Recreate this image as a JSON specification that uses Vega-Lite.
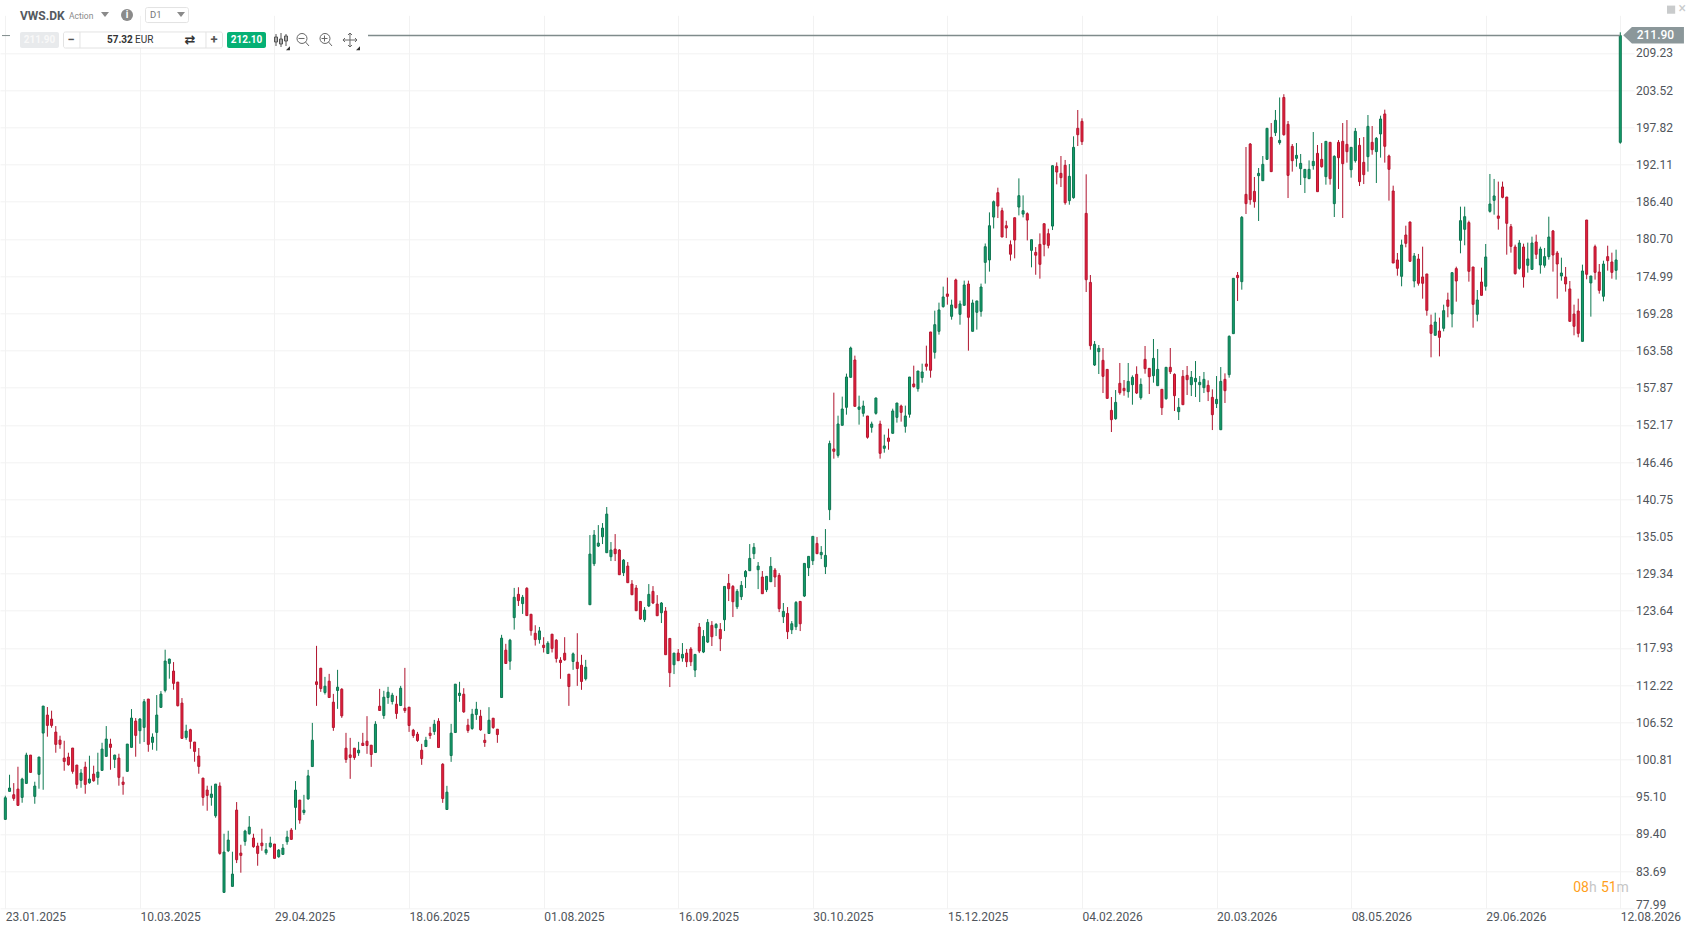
{
"$schema":"https://vega.github.io/schema/vega-lite/v6.json",
"width":1634,"height":893,
"autosize":{"type":"none"},
"padding":{"left":0,"top":15.3,"right":58,"bottom":23.7},
"background":"#ffffff",
"view":{"stroke":null},
"config":{"text":{"font":"Roboto"},"axis":{"labelFont":"Roboto"}},
"data":{"values":[{}]},
"datasets":{"candles":[
{"bar":0,"open":91.63,"high":95.26,"low":91.63,"close":94.95},
{"bar":1,"open":95.93,"high":98.48,"low":95.93,"close":96.44},
{"bar":2,"open":95.42,"high":97.2,"low":94.49,"close":94.85},
{"bar":3,"open":96.28,"high":99.71,"low":93.78,"close":93.78},
{"bar":4,"open":95.01,"high":98.02,"low":94.19,"close":97.82},
{"bar":5,"open":97.15,"high":101.86,"low":97.15,"close":101.5},
{"bar":6,"open":101.5,"high":101.5,"low":98.84,"close":98.84},
{"bar":7,"open":95.16,"high":97.41,"low":94.03,"close":96.75},
{"bar":8,"open":98.54,"high":101.2,"low":96.34,"close":101.2},
{"bar":9,"open":104.88,"high":109.02,"low":96.18,"close":109.02},
{"bar":10,"open":107.64,"high":108.87,"low":104.32,"close":106.05},
{"bar":11,"open":107.03,"high":108.31,"low":105.7,"close":106.05},
{"bar":12,"open":105.03,"high":105.95,"low":101.86,"close":103.14},
{"bar":13,"open":103.8,"high":104.47,"low":102.47,"close":103.14},
{"bar":14,"open":101.04,"high":103.7,"low":99.1,"close":100.53},
{"bar":15,"open":101.2,"high":101.86,"low":99.87,"close":100.02},
{"bar":16,"open":102.58,"high":102.58,"low":98.64,"close":99.0},
{"bar":17,"open":99.97,"high":99.97,"low":96.34,"close":97.0},
{"bar":18,"open":97.61,"high":99.35,"low":96.49,"close":98.74},
{"bar":19,"open":99.66,"high":100.48,"low":95.57,"close":97.0},
{"bar":20,"open":97.26,"high":101.4,"low":97.1,"close":97.82},
{"bar":21,"open":98.59,"high":99.87,"low":97.41,"close":97.56},
{"bar":22,"open":98.08,"high":101.86,"low":96.95,"close":98.89},
{"bar":23,"open":99.15,"high":103.39,"low":99.15,"close":102.42},
{"bar":24,"open":101.3,"high":105.95,"low":101.3,"close":103.96},
{"bar":25,"open":103.19,"high":104.01,"low":99.25,"close":102.68},
{"bar":26,"open":100.84,"high":101.55,"low":99.51,"close":101.5},
{"bar":27,"open":101.04,"high":101.71,"low":96.8,"close":98.08},
{"bar":28,"open":97.36,"high":98.18,"low":95.42,"close":97.0},
{"bar":29,"open":99.0,"high":103.19,"low":99.0,"close":103.19},
{"bar":30,"open":102.68,"high":108.56,"low":102.68,"close":107.18},
{"bar":31,"open":106.72,"high":107.18,"low":101.25,"close":104.52},
{"bar":32,"open":105.24,"high":107.18,"low":103.24,"close":107.03},
{"bar":33,"open":105.75,"high":110.1,"low":103.5,"close":109.69},
{"bar":34,"open":110.1,"high":110.1,"low":102.01,"close":103.14},
{"bar":35,"open":103.45,"high":104.83,"low":102.32,"close":104.26},
{"bar":36,"open":104.98,"high":110.71,"low":102.17,"close":107.64},
{"bar":37,"open":108.82,"high":111.32,"low":108.82,"close":110.86},
{"bar":38,"open":111.43,"high":117.67,"low":111.12,"close":115.93},
{"bar":39,"open":115.57,"high":116.28,"low":113.22,"close":116.23},
{"bar":40,"open":114.39,"high":115.77,"low":111.53,"close":112.5},
{"bar":41,"open":112.7,"high":112.7,"low":108.97,"close":109.07},
{"bar":42,"open":109.48,"high":110.25,"low":104.06,"close":104.06},
{"bar":43,"open":104.21,"high":106.16,"low":103.85,"close":105.18},
{"bar":44,"open":105.39,"high":105.54,"low":102.47,"close":103.6},
{"bar":45,"open":103.5,"high":103.5,"low":100.48,"close":102.06},
{"bar":46,"open":101.35,"high":102.58,"low":98.64,"close":99.76},
{"bar":47,"open":97.97,"high":97.97,"low":93.73,"close":95.01},
{"bar":48,"open":96.13,"high":96.8,"low":92.96,"close":95.31},
{"bar":49,"open":95.01,"high":96.8,"low":93.73,"close":95.52},
{"bar":50,"open":92.19,"high":97.05,"low":91.89,"close":97.05},
{"bar":51,"open":96.75,"high":97.31,"low":86.21,"close":86.41},
{"bar":52,"open":80.43,"high":89.43,"low":80.43,"close":86.62},
{"bar":53,"open":86.82,"high":89.89,"low":86.62,"close":88.46},
{"bar":54,"open":81.35,"high":86.67,"low":81.35,"close":83.24},
{"bar":55,"open":93.06,"high":94.29,"low":84.93,"close":85.44},
{"bar":56,"open":86.46,"high":87.74,"low":83.45,"close":86.11},
{"bar":57,"open":88.25,"high":90.04,"low":87.59,"close":89.84},
{"bar":58,"open":89.43,"high":92.14,"low":89.28,"close":90.45},
{"bar":59,"open":88.77,"high":89.43,"low":87.28,"close":87.44},
{"bar":60,"open":87.54,"high":88.05,"low":84.52,"close":86.41},
{"bar":61,"open":88.0,"high":90.2,"low":86.82,"close":87.59},
{"bar":62,"open":86.51,"high":88.0,"low":86.21,"close":86.98},
{"bar":63,"open":87.44,"high":88.97,"low":87.28,"close":88.0},
{"bar":64,"open":87.85,"high":87.85,"low":85.65,"close":85.65},
{"bar":65,"open":85.9,"high":87.08,"low":85.75,"close":86.92},
{"bar":66,"open":86.26,"high":87.85,"low":86.26,"close":87.23},
{"bar":67,"open":88.2,"high":89.89,"low":87.74,"close":88.92},
{"bar":68,"open":89.99,"high":90.3,"low":88.56,"close":88.56},
{"bar":69,"open":93.47,"high":97.51,"low":90.04,"close":96.13},
{"bar":70,"open":94.6,"high":94.6,"low":90.97,"close":91.53},
{"bar":71,"open":92.69,"high":95.4,"low":92.33,"close":93.04},
{"bar":72,"open":94.78,"high":99.23,"low":94.63,"close":98.31},
{"bar":73,"open":99.74,"high":106.44,"low":99.74,"close":103.78},
{"bar":74,"open":112.74,"high":118.26,"low":109.05,"close":112.33},
{"bar":75,"open":114.83,"high":114.83,"low":111.2,"close":111.71},
{"bar":76,"open":111.1,"high":113.5,"low":110.79,"close":112.07},
{"bar":77,"open":112.84,"high":113.96,"low":110.33,"close":110.33},
{"bar":78,"open":109.62,"high":110.89,"low":105.22,"close":105.73},
{"bar":79,"open":111.41,"high":114.58,"low":108.59,"close":111.92},
{"bar":80,"open":111.61,"high":111.76,"low":107.21,"close":107.52},
{"bar":81,"open":102.56,"high":104.91,"low":100.31,"close":100.82},
{"bar":82,"open":101.53,"high":104.14,"low":97.85,"close":101.13},
{"bar":83,"open":102.56,"high":102.56,"low":100.77,"close":101.13},
{"bar":84,"open":101.84,"high":103.53,"low":101.38,"close":102.25},
{"bar":85,"open":103.32,"high":104.91,"low":102.97,"close":102.97},
{"bar":86,"open":103.63,"high":107.47,"low":101.69,"close":102.97},
{"bar":87,"open":103.02,"high":103.02,"low":99.69,"close":101.59},
{"bar":88,"open":101.89,"high":106.7,"low":101.89,"close":106.24},
{"bar":89,"open":109.0,"high":111.66,"low":108.34,"close":108.34},
{"bar":90,"open":107.57,"high":111.36,"low":107.06,"close":110.38},
{"bar":91,"open":110.33,"high":111.97,"low":109.36,"close":111.15},
{"bar":92,"open":109.72,"high":111.05,"low":109.26,"close":110.69},
{"bar":93,"open":109.31,"high":110.59,"low":107.06,"close":107.88},
{"bar":94,"open":109.1,"high":112.12,"low":109.1,"close":111.76},
{"bar":95,"open":108.7,"high":114.88,"low":107.98,"close":108.34},
{"bar":96,"open":108.85,"high":108.85,"low":105.06,"close":106.04},
{"bar":97,"open":105.32,"high":105.52,"low":104.14,"close":104.5},
{"bar":98,"open":104.71,"high":105.06,"low":103.53,"close":103.73},
{"bar":99,"open":102.25,"high":103.22,"low":100.0,"close":100.97},
{"bar":100,"open":102.81,"high":104.3,"low":102.81,"close":103.78},
{"bar":101,"open":104.86,"high":105.83,"low":103.99,"close":104.5},
{"bar":102,"open":105.11,"high":106.9,"low":104.6,"close":106.24},
{"bar":103,"open":106.7,"high":107.16,"low":102.66,"close":102.66},
{"bar":104,"open":100.1,"high":100.25,"low":94.17,"close":94.83},
{"bar":105,"open":93.15,"high":96.78,"low":93.15,"close":95.81},
{"bar":106,"open":101.43,"high":106.29,"low":100.46,"close":104.86},
{"bar":107,"open":104.96,"high":112.38,"low":104.96,"close":112.38},
{"bar":108,"open":110.64,"high":112.74,"low":109.67,"close":111.0},
{"bar":109,"open":110.84,"high":111.76,"low":107.98,"close":108.13},
{"bar":110,"open":106.09,"high":107.06,"low":104.91,"close":105.27},
{"bar":111,"open":105.58,"high":108.59,"low":105.37,"close":107.77},
{"bar":112,"open":107.72,"high":109.67,"low":106.9,"close":108.54},
{"bar":113,"open":107.47,"high":108.44,"low":105.22,"close":105.37},
{"bar":114,"open":103.78,"high":104.76,"low":102.76,"close":103.43},
{"bar":115,"open":104.81,"high":108.85,"low":104.81,"close":106.85},
{"bar":116,"open":107.16,"high":107.16,"low":105.52,"close":105.73},
{"bar":117,"open":105.47,"high":105.47,"low":103.38,"close":104.65},
{"bar":118,"open":110.33,"high":119.95,"low":110.33,"close":119.44},
{"bar":119,"open":117.6,"high":118.57,"low":115.55,"close":115.55},
{"bar":120,"open":115.91,"high":119.33,"low":114.58,"close":119.13},
{"bar":121,"open":122.59,"high":127.15,"low":120.75,"close":125.71},
{"bar":122,"open":126.17,"high":127.25,"low":124.38,"close":125.2},
{"bar":123,"open":124.74,"high":126.07,"low":123.16,"close":125.71},
{"bar":124,"open":127.1,"high":127.25,"low":122.9,"close":122.9},
{"bar":125,"open":123.11,"high":123.11,"low":119.83,"close":120.6},
{"bar":126,"open":120.19,"high":121.42,"low":118.3,"close":119.22},
{"bar":127,"open":119.22,"high":121.16,"low":118.6,"close":120.55},
{"bar":128,"open":118.36,"high":119.59,"low":117.24,"close":118.0},
{"bar":129,"open":117.08,"high":118.98,"low":117.08,"close":118.67},
{"bar":130,"open":120.05,"high":120.05,"low":117.24,"close":117.85},
{"bar":131,"open":119.13,"high":119.28,"low":115.7,"close":116.32},
{"bar":132,"open":116.06,"high":116.52,"low":113.2,"close":115.7},
{"bar":133,"open":117.13,"high":119.59,"low":115.96,"close":116.11},
{"bar":134,"open":113.91,"high":113.91,"low":109.05,"close":112.02},
{"bar":135,"open":115.86,"high":117.24,"low":114.58,"close":117.03},
{"bar":136,"open":115.75,"high":120.2,"low":112.12,"close":114.78},
{"bar":137,"open":115.29,"high":116.88,"low":111.51,"close":112.79},
{"bar":138,"open":113.2,"high":116.11,"low":112.94,"close":114.99},
{"bar":139,"open":124.57,"high":135.26,"low":124.57,"close":132.34},
{"bar":140,"open":130.86,"high":136.03,"low":130.5,"close":135.26},
{"bar":141,"open":133.57,"high":136.79,"low":133.42,"close":134.03},
{"bar":142,"open":135.0,"high":137.1,"low":133.88,"close":136.33},
{"bar":143,"open":132.55,"high":139.56,"low":132.55,"close":138.48},
{"bar":144,"open":131.94,"high":134.19,"low":131.27,"close":132.96},
{"bar":145,"open":133.11,"high":135.41,"low":131.27,"close":132.4},
{"bar":146,"open":132.96,"high":133.11,"low":129.17,"close":129.17},
{"bar":147,"open":129.48,"high":131.58,"low":128.97,"close":131.42},
{"bar":148,"open":130.5,"high":131.12,"low":127.95,"close":127.95},
{"bar":149,"open":127.74,"high":128.35,"low":126.1,"close":126.1},
{"bar":150,"open":127.13,"high":127.59,"low":123.65,"close":123.65},
{"bar":151,"open":125.08,"high":125.08,"low":122.22,"close":122.37},
{"bar":152,"open":122.27,"high":124.21,"low":121.91,"close":123.75},
{"bar":153,"open":124.37,"high":127.74,"low":124.21,"close":126.16},
{"bar":154,"open":126.62,"high":127.43,"low":124.67,"close":124.83},
{"bar":155,"open":124.67,"high":126.05,"low":122.88,"close":122.88},
{"bar":156,"open":123.34,"high":124.98,"low":121.76,"close":124.83},
{"bar":157,"open":123.6,"high":124.21,"low":116.9,"close":116.9},
{"bar":158,"open":119.4,"high":119.4,"low":111.94,"close":114.14},
{"bar":159,"open":115.36,"high":117.15,"low":113.93,"close":117.15},
{"bar":160,"open":117.15,"high":117.77,"low":115.98,"close":115.98},
{"bar":161,"open":116.39,"high":118.69,"low":115.82,"close":116.95},
{"bar":162,"open":117.15,"high":117.77,"low":115.0,"close":115.82},
{"bar":163,"open":117.77,"high":118.07,"low":115.16,"close":115.82},
{"bar":164,"open":114.54,"high":116.95,"low":113.47,"close":116.95},
{"bar":165,"open":121.14,"high":121.76,"low":117.15,"close":117.46},
{"bar":166,"open":117.31,"high":120.68,"low":117.15,"close":119.71},
{"bar":167,"open":118.84,"high":122.37,"low":118.69,"close":121.86},
{"bar":168,"open":121.4,"high":122.06,"low":118.23,"close":119.66},
{"bar":169,"open":121.04,"high":121.76,"low":119.76,"close":121.55},
{"bar":170,"open":120.78,"high":121.76,"low":117.46,"close":119.35},
{"bar":171,"open":122.27,"high":127.38,"low":120.53,"close":127.38},
{"bar":172,"open":127.84,"high":129.28,"low":125.13,"close":127.03},
{"bar":173,"open":127.38,"high":127.59,"low":122.68,"close":125.03},
{"bar":174,"open":124.26,"high":126.97,"low":123.9,"close":126.62},
{"bar":175,"open":125.8,"high":128.2,"low":125.29,"close":127.54},
{"bar":176,"open":128.87,"high":129.89,"low":127.13,"close":129.68},
{"bar":177,"open":129.79,"high":133.88,"low":129.79,"close":131.68},
{"bar":178,"open":132.4,"high":134.03,"low":131.58,"close":133.37},
{"bar":179,"open":129.94,"high":131.12,"low":126.97,"close":130.5},
{"bar":180,"open":128.82,"high":129.74,"low":126.26,"close":126.26},
{"bar":181,"open":126.87,"high":128.97,"low":126.51,"close":128.92},
{"bar":182,"open":128.1,"high":131.88,"low":128.1,"close":130.45},
{"bar":183,"open":129.89,"high":130.2,"low":127.28,"close":128.82},
{"bar":184,"open":129.07,"high":129.43,"low":123.44,"close":123.96},
{"bar":185,"open":122.73,"high":124.83,"low":121.76,"close":123.55},
{"bar":186,"open":123.24,"high":124.21,"low":119.3,"close":120.43},
{"bar":187,"open":120.73,"high":122.06,"low":120.07,"close":121.65},
{"bar":188,"open":121.19,"high":125.13,"low":120.68,"close":124.93},
{"bar":189,"open":125.08,"high":125.13,"low":120.53,"close":121.65},
{"bar":190,"open":125.9,"high":130.91,"low":125.75,"close":130.91},
{"bar":191,"open":130.25,"high":131.99,"low":128.97,"close":131.99},
{"bar":192,"open":131.32,"high":135.06,"low":130.66,"close":135.06},
{"bar":193,"open":133.98,"high":134.95,"low":132.4,"close":132.4},
{"bar":194,"open":132.24,"high":133.57,"low":131.58,"close":132.6},
{"bar":195,"open":130.4,"high":136.18,"low":129.28,"close":132.14},
{"bar":196,"open":139.15,"high":149.74,"low":137.56,"close":149.3},
{"bar":197,"open":148.47,"high":157.11,"low":146.98,"close":148.11},
{"bar":198,"open":147.49,"high":153.58,"low":147.14,"close":152.3},
{"bar":199,"open":152.1,"high":156.5,"low":152.1,"close":154.6},
{"bar":200,"open":154.86,"high":160.03,"low":153.73,"close":159.51},
{"bar":201,"open":159.46,"high":164.17,"low":159.46,"close":163.96},
{"bar":202,"open":162.12,"high":162.79,"low":155.01,"close":155.01},
{"bar":203,"open":154.55,"high":156.65,"low":152.2,"close":154.91},
{"bar":204,"open":153.94,"high":155.88,"low":153.43,"close":155.06},
{"bar":205,"open":153.53,"high":153.53,"low":150.05,"close":150.26},
{"bar":206,"open":151.79,"high":152.66,"low":150.97,"close":152.3},
{"bar":207,"open":153.94,"high":156.34,"low":153.73,"close":156.29},
{"bar":208,"open":152.3,"high":152.81,"low":146.98,"close":147.8},
{"bar":209,"open":148.57,"high":150.67,"low":147.9,"close":148.93},
{"bar":210,"open":150.15,"high":151.59,"low":148.36,"close":149.64},
{"bar":211,"open":150.87,"high":154.65,"low":150.87,"close":154.3},
{"bar":212,"open":153.32,"high":155.52,"low":152.51,"close":155.52},
{"bar":213,"open":155.06,"high":155.27,"low":152.66,"close":154.09},
{"bar":214,"open":151.94,"high":155.12,"low":150.97,"close":153.53},
{"bar":215,"open":153.79,"high":159.51,"low":153.27,"close":159.51},
{"bar":216,"open":158.44,"high":161.25,"low":157.88,"close":158.03},
{"bar":217,"open":157.72,"high":160.43,"low":157.26,"close":160.43},
{"bar":218,"open":159.41,"high":161.56,"low":158.64,"close":160.28},
{"bar":219,"open":161.51,"high":164.32,"low":160.49,"close":161.15},
{"bar":220,"open":166.42,"high":166.42,"low":159.41,"close":160.54},
{"bar":221,"open":163.3,"high":169.69,"low":162.33,"close":167.54},
{"bar":222,"open":166.52,"high":170.92,"low":166.01,"close":169.8},
{"bar":223,"open":170.31,"high":173.38,"low":170.15,"close":171.79},
{"bar":224,"open":172.25,"high":174.76,"low":170.61,"close":171.89},
{"bar":225,"open":168.82,"high":171.38,"low":168.31,"close":170.56},
{"bar":226,"open":174.4,"high":174.6,"low":170.0,"close":170.15},
{"bar":227,"open":169.13,"high":171.23,"low":167.54,"close":170.72},
{"bar":228,"open":170.51,"high":174.3,"low":170.51,"close":173.63},
{"bar":229,"open":173.78,"high":174.3,"low":163.55,"close":168.67},
{"bar":230,"open":166.52,"high":171.38,"low":166.52,"close":170.87},
{"bar":231,"open":169.44,"high":171.18,"low":166.78,"close":171.18},
{"bar":232,"open":169.59,"high":173.84,"low":168.77,"close":173.32},
{"bar":233,"open":177.1,"high":180.0,"low":173.84,"close":179.5},
{"bar":234,"open":177.47,"high":184.77,"low":175.68,"close":182.72},
{"bar":235,"open":184.05,"high":186.6,"low":182.3,"close":186.41},
{"bar":236,"open":187.79,"high":188.56,"low":183.9,"close":185.74},
{"bar":237,"open":185.03,"high":185.49,"low":180.99,"close":180.99},
{"bar":238,"open":182.72,"high":183.49,"low":180.83,"close":182.37},
{"bar":239,"open":179.81,"high":180.47,"low":177.37,"close":178.35},
{"bar":240,"open":183.95,"high":183.95,"low":177.72,"close":180.53},
{"bar":241,"open":185.59,"high":189.99,"low":184.31,"close":187.33},
{"bar":242,"open":184.51,"high":187.38,"low":184.0,"close":185.03},
{"bar":243,"open":184.57,"high":184.77,"low":180.47,"close":183.59},
{"bar":244,"open":178.94,"high":180.58,"low":176.34,"close":180.58},
{"bar":245,"open":178.63,"high":179.45,"low":175.2,"close":178.2},
{"bar":246,"open":179.86,"high":181.55,"low":174.6,"close":176.8},
{"bar":247,"open":183.03,"high":183.03,"low":178.03,"close":179.86},
{"bar":248,"open":181.5,"high":182.26,"low":179.25,"close":179.71},
{"bar":249,"open":182.67,"high":191.98,"low":182.06,"close":191.93},
{"bar":250,"open":191.83,"high":192.44,"low":189.07,"close":190.96},
{"bar":251,"open":190.76,"high":193.42,"low":188.66,"close":190.1},
{"bar":252,"open":192.0,"high":192.81,"low":185.95,"close":186.26},
{"bar":253,"open":186.57,"high":192.19,"low":185.95,"close":190.3},
{"bar":254,"open":187.03,"high":196.44,"low":186.87,"close":194.75},
{"bar":255,"open":197.67,"high":200.48,"low":194.95,"close":196.69},
{"bar":256,"open":198.74,"high":199.2,"low":195.11,"close":195.62},
{"bar":257,"open":184.62,"high":190.61,"low":172.55,"close":174.44},
{"bar":258,"open":174.03,"high":175.16,"low":163.7,"close":164.32},
{"bar":259,"open":161.35,"high":165.03,"low":161.2,"close":164.52},
{"bar":260,"open":163.4,"high":164.42,"low":159.97,"close":163.91},
{"bar":261,"open":162.07,"high":163.96,"low":157.05,"close":159.61},
{"bar":262,"open":160.68,"high":160.68,"low":156.23,"close":156.23},
{"bar":263,"open":154.39,"high":156.44,"low":151.07,"close":152.96},
{"bar":264,"open":153.11,"high":157.51,"low":152.96,"close":155.62},
{"bar":265,"open":158.54,"high":161.66,"low":156.8,"close":157.1},
{"bar":266,"open":157.77,"high":159.05,"low":156.64,"close":157.41},
{"bar":267,"open":157.26,"high":161.66,"low":156.34,"close":158.84},
{"bar":268,"open":158.33,"high":159.76,"low":155.26,"close":159.46},
{"bar":269,"open":159.92,"high":161.15,"low":156.9,"close":157.05},
{"bar":270,"open":156.34,"high":159.3,"low":156.03,"close":158.38},
{"bar":271,"open":162.22,"high":164.27,"low":160.02,"close":160.79},
{"bar":272,"open":160.84,"high":160.84,"low":156.9,"close":159.56},
{"bar":273,"open":159.71,"high":165.34,"low":158.64,"close":162.37},
{"bar":274,"open":158.18,"high":163.8,"low":158.18,"close":160.68},
{"bar":275,"open":157.62,"high":157.62,"low":153.68,"close":154.8},
{"bar":276,"open":156.18,"high":161.0,"low":156.03,"close":161.0},
{"bar":277,"open":161.0,"high":163.96,"low":159.97,"close":160.33},
{"bar":278,"open":159.92,"high":160.07,"low":154.29,"close":156.64},
{"bar":279,"open":154.19,"high":156.28,"low":152.91,"close":154.85},
{"bar":280,"open":159.61,"high":160.58,"low":155.26,"close":155.26},
{"bar":281,"open":159.76,"high":161.2,"low":156.75,"close":159.1},
{"bar":282,"open":158.33,"high":160.43,"low":156.59,"close":159.46},
{"bar":283,"open":158.79,"high":161.96,"low":156.44,"close":159.3},
{"bar":284,"open":158.33,"high":159.66,"low":155.67,"close":158.69},
{"bar":285,"open":157.87,"high":160.28,"low":157.05,"close":159.15},
{"bar":286,"open":158.23,"high":159.0,"low":155.82,"close":157.26},
{"bar":287,"open":156.39,"high":157.62,"low":151.37,"close":153.73},
{"bar":288,"open":155.42,"high":159.66,"low":154.75,"close":156.08},
{"bar":289,"open":151.42,"high":161.04,"low":151.42,"close":158.84},
{"bar":290,"open":159.15,"high":160.07,"low":155.52,"close":157.41},
{"bar":291,"open":159.87,"high":165.9,"low":159.41,"close":165.75},
{"bar":292,"open":166.16,"high":174.65,"low":166.16,"close":174.65},
{"bar":293,"open":175.11,"high":175.62,"low":171.17,"close":174.75},
{"bar":294,"open":174.14,"high":184.21,"low":172.91,"close":184.01},
{"bar":295,"open":187.54,"high":194.8,"low":184.52,"close":186.11},
{"bar":296,"open":195.26,"high":195.41,"low":185.95,"close":186.72},
{"bar":297,"open":188.0,"high":190.2,"low":185.49,"close":186.41},
{"bar":298,"open":190.4,"high":191.58,"low":183.45,"close":190.76},
{"bar":299,"open":189.63,"high":193.42,"low":189.63,"close":192.14},
{"bar":300,"open":192.91,"high":197.67,"low":192.81,"close":197.67},
{"bar":301,"open":196.29,"high":198.48,"low":191.02,"close":191.02},
{"bar":302,"open":197.0,"high":200.48,"low":196.49,"close":198.89},
{"bar":303,"open":195.47,"high":202.4,"low":195.16,"close":195.82},
{"bar":304,"open":202.4,"high":202.9,"low":196.54,"close":196.69},
{"bar":305,"open":198.28,"high":198.79,"low":186.97,"close":190.45},
{"bar":306,"open":194.9,"high":195.26,"low":191.02,"close":192.7},
{"bar":307,"open":193.06,"high":195.41,"low":191.78,"close":193.52},
{"bar":308,"open":191.48,"high":193.73,"low":188.97,"close":192.29},
{"bar":309,"open":190.1,"high":191.37,"low":187.74,"close":191.37},
{"bar":310,"open":189.94,"high":192.75,"low":189.94,"close":191.37},
{"bar":311,"open":191.94,"high":197.1,"low":191.32,"close":192.6},
{"bar":312,"open":193.83,"high":195.11,"low":187.95,"close":187.95},
{"bar":313,"open":192.91,"high":195.41,"low":191.63,"close":191.78},
{"bar":314,"open":190.25,"high":195.67,"low":189.02,"close":195.67},
{"bar":315,"open":195.52,"high":195.57,"low":189.02,"close":189.94},
{"bar":316,"open":186.11,"high":193.52,"low":184.06,"close":193.37},
{"bar":317,"open":195.52,"high":195.87,"low":188.36,"close":193.16},
{"bar":318,"open":195.67,"high":198.48,"low":183.91,"close":192.24},
{"bar":319,"open":195.21,"high":198.94,"low":192.4,"close":194.09},
{"bar":320,"open":191.32,"high":194.75,"low":190.1,"close":194.75},
{"bar":321,"open":192.7,"high":197.72,"low":192.4,"close":197.21},
{"bar":322,"open":195.06,"high":196.18,"low":188.82,"close":189.48},
{"bar":323,"open":192.45,"high":196.33,"low":189.12,"close":190.56},
{"bar":324,"open":193.32,"high":199.71,"low":191.02,"close":197.97},
{"bar":325,"open":195.52,"high":198.02,"low":193.62,"close":194.39},
{"bar":326,"open":194.09,"high":196.33,"low":189.28,"close":196.13},
{"bar":327,"open":196.8,"high":199.61,"low":193.17,"close":199.1},
{"bar":328,"open":199.87,"high":200.53,"low":192.4,"close":194.91},
{"bar":329,"open":193.42,"high":193.63,"low":186.57,"close":191.38},
{"bar":330,"open":188.05,"high":188.87,"low":177.0,"close":177.0},
{"bar":331,"open":177.47,"high":178.54,"low":175.06,"close":176.19},
{"bar":332,"open":174.96,"high":180.59,"low":173.43,"close":179.77},
{"bar":333,"open":181.3,"high":182.73,"low":179.41,"close":180.02},
{"bar":334,"open":183.3,"high":183.3,"low":177.26,"close":177.26},
{"bar":335,"open":174.24,"high":178.54,"low":173.27,"close":178.08},
{"bar":336,"open":177.62,"high":178.39,"low":173.53,"close":173.89},
{"bar":337,"open":174.86,"high":179.51,"low":171.53,"close":173.89},
{"bar":338,"open":175.32,"high":175.32,"low":168.92,"close":169.74},
{"bar":339,"open":167.49,"high":169.08,"low":162.53,"close":166.21},
{"bar":340,"open":165.91,"high":169.38,"low":165.91,"close":167.95},
{"bar":341,"open":166.57,"high":168.62,"low":162.68,"close":165.6},
{"bar":342,"open":166.98,"high":170.61,"low":166.52,"close":169.69},
{"bar":343,"open":171.33,"high":172.45,"low":168.67,"close":170.36},
{"bar":344,"open":169.18,"high":175.52,"low":167.13,"close":175.52},
{"bar":345,"open":176.14,"high":176.44,"low":171.07,"close":174.24},
{"bar":346,"open":180.48,"high":185.65,"low":178.49,"close":183.5},
{"bar":347,"open":182.17,"high":185.65,"low":179.72,"close":184.11},
{"bar":348,"open":183.2,"high":183.5,"low":174.14,"close":175.73},
{"bar":349,"open":176.39,"high":176.39,"low":167.08,"close":170.66},
{"bar":350,"open":169.13,"high":172.86,"low":168.05,"close":171.33},
{"bar":351,"open":174.09,"high":176.29,"low":172.04,"close":172.04},
{"bar":352,"open":173.43,"high":179.92,"low":172.76,"close":177.93},
{"bar":353,"open":184.93,"high":190.66,"low":184.73,"close":186.06},
{"bar":354,"open":186.62,"high":189.9,"low":184.42,"close":187.29},
{"bar":355,"open":184.22,"high":189.49,"low":182.12,"close":183.86},
{"bar":356,"open":188.67,"high":189.49,"low":186.93,"close":187.08},
{"bar":357,"open":187.13,"high":187.13,"low":178.28,"close":183.09},
{"bar":358,"open":182.58,"high":182.99,"low":178.59,"close":179.56},
{"bar":359,"open":179.46,"high":179.82,"low":175.22,"close":175.37},
{"bar":360,"open":176.19,"high":180.53,"low":175.98,"close":180.07},
{"bar":361,"open":179.46,"high":179.97,"low":173.22,"close":174.86},
{"bar":362,"open":176.65,"high":180.13,"low":175.52,"close":177.62},
{"bar":363,"open":176.03,"high":181.05,"low":175.98,"close":180.07},
{"bar":364,"open":180.23,"high":181.35,"low":177.62,"close":178.34},
{"bar":365,"open":176.7,"high":179.51,"low":175.37,"close":179.15},
{"bar":366,"open":176.65,"high":179.31,"low":176.29,"close":177.98},
{"bar":367,"open":177.98,"high":184.11,"low":177.52,"close":180.99},
{"bar":368,"open":181.92,"high":182.07,"low":175.68,"close":178.23},
{"bar":369,"open":178.54,"high":178.85,"low":171.53,"close":176.85},
{"bar":370,"open":175.01,"high":177.82,"low":174.29,"close":175.47},
{"bar":371,"open":174.86,"high":176.39,"low":172.61,"close":173.78},
{"bar":372,"open":173.02,"high":174.24,"low":168.05,"close":168.05},
{"bar":373,"open":169.18,"high":170.61,"low":165.91,"close":167.29},
{"bar":374,"open":169.64,"high":171.53,"low":165.6,"close":166.21},
{"bar":375,"open":164.98,"high":176.75,"low":164.98,"close":175.78},
{"bar":376,"open":183.6,"high":183.6,"low":174.5,"close":175.27},
{"bar":377,"open":173.94,"high":175.01,"low":168.77,"close":175.01},
{"bar":378,"open":179.51,"high":179.82,"low":174.45,"close":175.57},
{"bar":379,"open":175.62,"high":176.85,"low":172.3,"close":172.81},
{"bar":380,"open":171.89,"high":177.36,"low":171.12,"close":176.85},
{"bar":381,"open":177.98,"high":179.66,"low":175.83,"close":177.36},
{"bar":382,"open":177.16,"high":178.59,"low":174.6,"close":175.57},
{"bar":383,"open":175.88,"high":179.05,"low":174.45,"close":177.47},
{"bar":384,"open":195.52,"high":212.4,"low":195.3,"close":211.9}
]},
"layer":[
{"data":{"name":"candles"},"mark":{"type":"rule","strokeWidth":1},"encoding":{"x":{"field":"bar","type":"quantitative","title":null,"scale":{"domain":[-1.267,387.26],"nice":false,"zero":false,"padding":0},"axis":{"values":[0,32,64,96,128,160,192,224,256,288,320,352,384],"tickCount":20,"labelExpr":"['23.01.2025','10.03.2025','29.04.2025','18.06.2025','01.08.2025','16.09.2025','30.10.2025','15.12.2025','04.02.2026','20.03.2026','08.05.2026','29.06.2026','12.08.2026'][datum.value/32]","labelAlign":"left","labelBaseline":"top","labelPadding":3,"labelFontSize":12,"labelColor":"#50555b","labelOverlap":false,"labelBound":false,"labelFlush":false,"ticks":false,"domain":false,"grid":true,"gridColor":"#f2f2f2","gridWidth":1,"title":null}},"y":{"field":"low","type":"quantitative","title":null,"scale":{"domain":[77.99,215.01],"nice":false,"zero":false},"axis":{"orient":"right","values":[77.99,83.69,89.40,95.10,100.81,106.52,112.22,117.93,123.64,129.34,135.05,140.75,146.46,152.17,157.87,163.58,169.28,174.99,180.70,186.40,192.11,197.82,203.52,209.23],"tickCount":30,"format":".2f","labelAlign":"left","labelPadding":1.5,"labelFontSize":12,"labelColor":"#50555b","labelOverlap":false,"labelBound":false,"labelFlush":true,"labelFlushOffset":3,"ticks":false,"domain":false,"grid":true,"gridColor":"#f2f2f2","gridWidth":1,"title":null}},"y2":{"field":"high"},"stroke":{"condition":{"test":"datum.close>datum.open","value":"#0e7a52"},"value":"#b0142e"}}},
{"data":{"name":"candles"},"mark":{"type":"bar","size":2,"strokeWidth":1},"encoding":{"x":{"field":"bar","type":"quantitative","title":null},"y":{"field":"open","type":"quantitative","title":null},"y2":{"field":"close"},"fill":{"condition":{"test":"datum.close>datum.open","value":"#13a06b"},"value":"#e8203d"},"stroke":{"condition":{"test":"datum.close>datum.open","value":"#0e7350"},"value":"#b3162f"}}},
{"mark":{"type":"rule","stroke":"#7f8b8b","strokeWidth":1.5},"encoding":{"x":{"datum":86.24},"x2":{"datum":384},"y":{"datum":211.9}}},
{"mark":{"type":"rule","stroke":"#7f8b8b","strokeWidth":1},"encoding":{"x":{"datum":-0.79},"x2":{"datum":1.11},"y":{"datum":211.9}}},
{"mark":{"type":"point","shape":"M-30.7,0L-22,-8.3L30,-8.3L30,8.3L-22,8.3Z","size":4,"filled":true,"fill":"#8b979a","strokeWidth":0,"opacity":1},"encoding":{"x":{"datum":392.0},"y":{"datum":211.94}}},
{"mark":{"type":"text","text":"211.90","align":"left","baseline":"middle","fontSize":12,"fontWeight":500,"fill":"#ffffff"},"encoding":{"x":{"datum":387.9},"y":{"datum":211.94}}},
{"mark":{"type":"rect","fill":"#c9cbcc"},"encoding":{"x":{"datum":395.1},"x2":{"datum":397.05},"y":{"datum":216.5},"y2":{"datum":215.25}}},
{"mark":{"type":"text","text":"×","align":"center","baseline":"middle","fontSize":14,"fill":"#c9cbcc"},"encoding":{"x":{"datum":398.75},"y":{"datum":216.0}}},
{"mark":{"type":"text","text":"08","align":"left","baseline":"middle","fontSize":14,"fill":"#ff9f1c"},"encoding":{"x":{"datum":372.8},"y":{"datum":81.06}}},
{"mark":{"type":"text","text":"h","align":"left","baseline":"middle","fontSize":14,"fill":"#c6c6c6"},"encoding":{"x":{"datum":376.57},"y":{"datum":81.06}}},
{"mark":{"type":"text","text":"51","align":"left","baseline":"middle","fontSize":14,"fill":"#ff9f1c"},"encoding":{"x":{"datum":379.4},"y":{"datum":81.06}}},
{"mark":{"type":"text","text":"m","align":"left","baseline":"middle","fontSize":14,"fill":"#c6c6c6"},"encoding":{"x":{"datum":383.1},"y":{"datum":81.06}}},
{"mark":{"type":"text","text":"VWS.DK","align":"left","baseline":"middle","fontSize":12,"fontWeight":"bold","fill":"#555a60"},"encoding":{"x":{"datum":3.49},"y":{"datum":214.95}}},
{"mark":{"type":"text","text":"Action","align":"left","baseline":"middle","fontSize":8.5,"fill":"#8a8a8a"},"encoding":{"x":{"datum":15.14},"y":{"datum":214.91}}},
{"mark":{"type":"point","shape":"M-4,-2.5H4L0,2.5Z","size":4,"filled":true,"fill":"#8a8a8a","strokeWidth":0,"opacity":1},"encoding":{"x":{"datum":23.7},"y":{"datum":215.14}}},
{"mark":{"type":"point","shape":"circle","size":144,"filled":true,"fill":"#8a8a8a","strokeWidth":0,"opacity":1},"encoding":{"x":{"datum":28.93},"y":{"datum":215.06}}},
{"mark":{"type":"text","text":"i","align":"center","baseline":"middle","fontSize":10,"fontWeight":"bold","fill":"#ffffff"},"encoding":{"x":{"datum":28.93},"y":{"datum":215.06}}},
{"mark":{"type":"rect","fill":"#ffffff","stroke":"#e3e3e3","strokeWidth":1,"cornerRadius":2},"encoding":{"x":{"datum":33.33},"x2":{"datum":43.55},"y":{"datum":216.2},"y2":{"datum":213.9}}},
{"mark":{"type":"text","text":"D1","align":"left","baseline":"middle","fontSize":9.5,"fill":"#777777"},"encoding":{"x":{"datum":34.4},"y":{"datum":215.06}}},
{"mark":{"type":"point","shape":"M-4,-2.5H4L0,2.5Z","size":4,"filled":true,"fill":"#8a8a8a","strokeWidth":0,"opacity":1},"encoding":{"x":{"datum":41.77},"y":{"datum":215.14}}},
{"mark":{"type":"rect","fill":"#e8eaec","cornerRadius":2},"encoding":{"x":{"datum":3.49},"x2":{"datum":12.76},"y":{"datum":212.45},"y2":{"datum":209.99}}},
{"mark":{"type":"text","text":"211.90","align":"center","baseline":"middle","fontSize":10,"fontWeight":"bold","fill":"#f8f8f8"},"encoding":{"x":{"datum":8.12},"y":{"datum":211.22}}},
{"mark":{"type":"rect","fill":"#ffffff","stroke":"#e3e3e3","strokeWidth":1,"cornerRadius":2},"encoding":{"x":{"datum":13.83},"x2":{"datum":51.64},"y":{"datum":212.45},"y2":{"datum":209.99}}},
{"mark":{"type":"rule","stroke":"#e3e3e3","strokeWidth":1},"encoding":{"x":{"datum":17.75},"y":{"datum":212.45},"y2":{"datum":209.99}}},
{"mark":{"type":"rule","stroke":"#e3e3e3","strokeWidth":1},"encoding":{"x":{"datum":47.71},"y":{"datum":212.45},"y2":{"datum":209.99}}},
{"mark":{"type":"text","text":"−","align":"center","baseline":"middle","fontSize":13,"fontWeight":"bold","fill":"#555555"},"encoding":{"x":{"datum":15.62},"y":{"datum":211.22}}},
{"mark":{"type":"text","text":"+","align":"center","baseline":"middle","fontSize":13,"fontWeight":"bold","fill":"#555555"},"encoding":{"x":{"datum":49.62},"y":{"datum":211.22}}},
{"mark":{"type":"text","text":"57.32","align":"left","baseline":"middle","fontSize":10,"fontWeight":"bold","fill":"#333333"},"encoding":{"x":{"datum":24.17},"y":{"datum":211.22}}},
{"mark":{"type":"text","text":"EUR","align":"left","baseline":"middle","fontSize":10,"fill":"#333333"},"encoding":{"x":{"datum":30.83},"y":{"datum":211.22}}},
{"mark":{"type":"text","text":"⇄","font":"DejaVu Sans","align":"center","baseline":"middle","fontSize":13,"fontWeight":"bold","fill":"#333333"},"encoding":{"x":{"datum":43.91},"y":{"datum":211.22}}},
{"mark":{"type":"rect","fill":"#05b074","cornerRadius":2},"encoding":{"x":{"datum":52.71},"x2":{"datum":61.98},"y":{"datum":212.45},"y2":{"datum":209.99}}},
{"mark":{"type":"text","text":"212.10","align":"center","baseline":"middle","fontSize":10,"fontWeight":"bold","fill":"#ffffff"},"encoding":{"x":{"datum":57.35},"y":{"datum":211.22}}},
{"mark":{"type":"point","shape":"M-5,-6V6M0,-7V7M5,-6V6M-6.5,-3H-3.5V2H-6.5ZM-1.5,-1H1.5V4H-1.5ZM3.5,-4H6.5V1H3.5Z","size":4,"filled":false,"stroke":"#555555","strokeWidth":1,"opacity":1},"encoding":{"x":{"datum":65.55},"y":{"datum":211.22}}},
{"mark":{"type":"point","shape":"M-0,-6A5,5 0 1 1 -0.01,-6M3.6,2.6L7,6.5M-3.5,-1H2.5","size":4,"filled":false,"stroke":"#666666","strokeWidth":1,"opacity":1},"encoding":{"x":{"datum":70.54},"y":{"datum":211.3}}},
{"mark":{"type":"point","shape":"M-0,-6A5,5 0 1 1 -0.01,-6M3.6,2.6L7,6.5M-3.5,-1H2.5M-0.5,-4V2","size":4,"filled":false,"stroke":"#666666","strokeWidth":1,"opacity":1},"encoding":{"x":{"datum":76.01},"y":{"datum":211.3}}},
{"mark":{"type":"point","shape":"M-7,0H7M0,-7V7M-5,-2L-7,0L-5,2M5,-2L7,0L5,2M-2,-5L0,-7L2,-5M-2,5L0,7L2,5","size":4,"filled":false,"stroke":"#666666","strokeWidth":1,"opacity":1},"encoding":{"x":{"datum":81.95},"y":{"datum":211.22}}},
{"mark":{"type":"point","shape":"M2,-2V2H-2Z","size":4,"filled":true,"fill":"#333333","strokeWidth":0,"opacity":1},"encoding":{"x":{"datum":67.2},"y":{"datum":209.95}}},
{"mark":{"type":"point","shape":"M2,-2V2H-2Z","size":4,"filled":true,"fill":"#333333","strokeWidth":0,"opacity":1},"encoding":{"x":{"datum":83.86},"y":{"datum":209.95}}}
]
}
